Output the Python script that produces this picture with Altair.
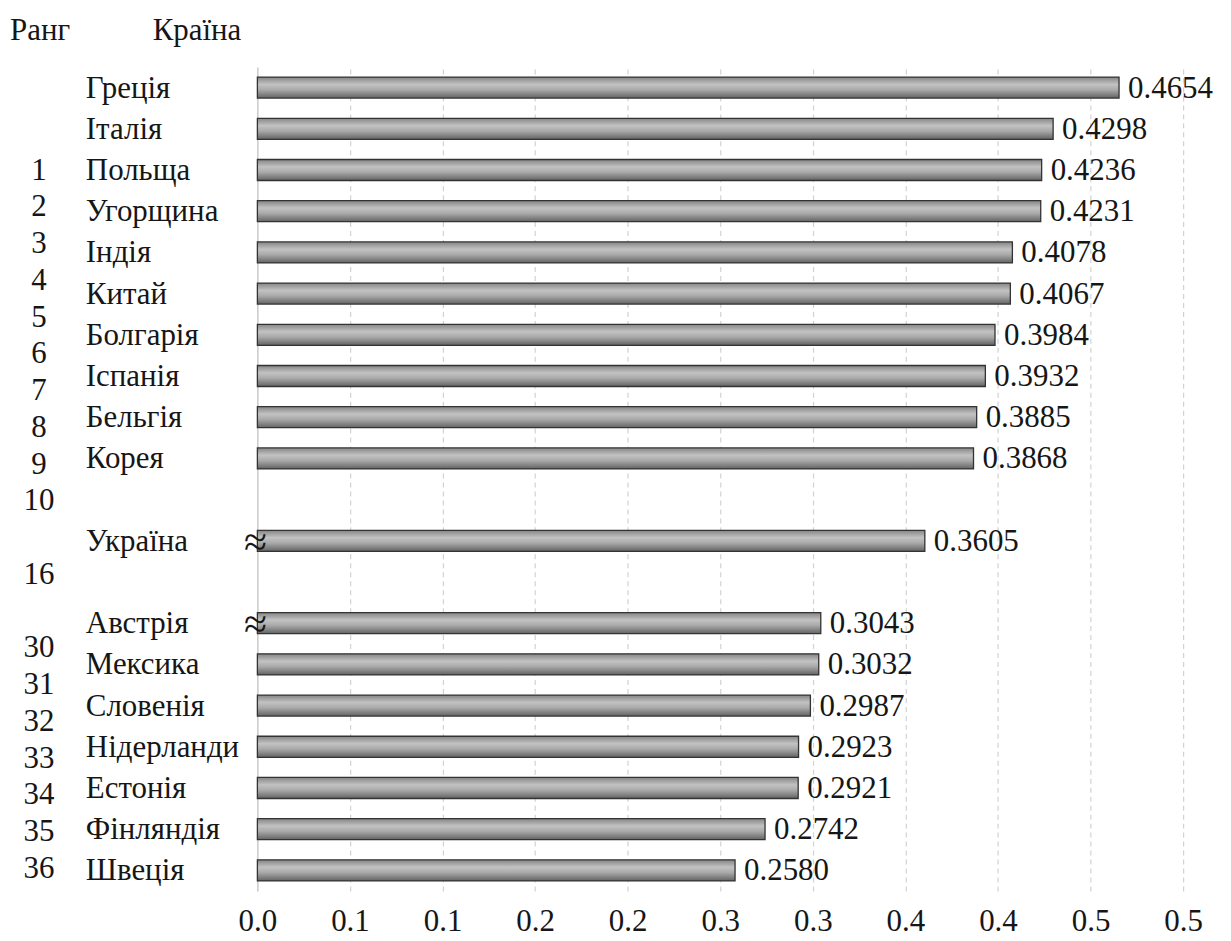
import altair as alt
import pandas as pd

FONT = "Liberation Serif"
FS = 31

headers = ["Ранг", "Країна"]
countries = ["Греція", "Італія", "Польща", "Угорщина", "Індія", "Китай", "Болгарія",
             "Іспанія", "Бельгія", "Корея", "", "Україна", "", "Австрія", "Мексика",
             "Словенія", "Нідерланди", "Естонія", "Фінляндія", "Швеція"]
values = [0.4654, 0.4298, 0.4236, 0.4231, 0.4078, 0.4067, 0.3984, 0.3932, 0.3885, 0.3868,
          None, 0.3605, None, 0.3043, 0.3032, 0.2987, 0.2923, 0.2921, 0.2742, 0.2580]
breaks = [False] * 11 + [True] + [False, True] + [False] * 6
ranks = ["1", "2", "3", "4", "5", "6", "7", "8", "9", "10", "", "16", "",
         "30", "31", "32", "33", "34", "35", "36"]
tick_values = [0.0, 0.05, 0.1, 0.15, 0.2, 0.25, 0.3, 0.35, 0.4, 0.45, 0.5]
tick_labels = ["0.0", "0.1", "0.1", "0.2", "0.2", "0.3", "0.3", "0.4", "0.4", "0.5", "0.5"]

slots = list(range(len(countries)))
df = pd.DataFrame({"slot": slots, "country": countries, "value": values, "brk": breaks})
df = df[df["country"] != ""]
rank_df = pd.DataFrame({"slot": slots, "rank": ranks})
rank_df = rank_df[rank_df["rank"] != ""]

W, H = 928, 826
TXT = "#161616"
band = alt.Scale(type="band", domain=slots, paddingInner=0.49, paddingOuter=0.245)
y_band = alt.Y("slot:O", scale=band, axis=None)

label_expr = "[" + ",".join(f"'{t}'" for t in tick_labels) + "][round(datum.value / 0.05)]"
x_enc = alt.X(
    "value:Q",
    scale=alt.Scale(domain=[0, 0.5], nice=False, zero=True),
    axis=alt.Axis(
        values=tick_values, labelExpr=label_expr, title=None, domain=False, ticks=False,
        grid=True, labelFlush=False, labelOverlap=False,
        gridColor={"condition": {"test": "datum.value === 0", "value": "#bdbdbd"}, "value": "#d2d2d2"},
        gridDash={"condition": {"test": "datum.value === 0", "value": []}, "value": [5, 4]},
        gridWidth=1.2,
        labelFont=FONT, labelFontSize=FS, labelColor=TXT, labelPadding=16,
    ),
)

grad = alt.Gradient(
    gradient="linear",
    stops=[
        alt.GradientStop(color="#858585", offset=0),
        alt.GradientStop(color="#c2c2c2", offset=0.35),
        alt.GradientStop(color="#aaaaaa", offset=0.6),
        alt.GradientStop(color="#636363", offset=1),
    ],
    x1=0, x2=0, y1=0, y2=1,
)

bars = alt.Chart(df).mark_bar(fill=grad, stroke="#333333", strokeWidth=1.3).encode(
    x=x_enc, y=y_band
)

value_text = alt.Chart(df).mark_text(
    align="left", baseline="middle", dx=9, dy=1, font=FONT, fontSize=FS, color=TXT
).encode(x=alt.X("value:Q"), y=y_band, text=alt.Text("value:Q", format=".4f"))

brk_text = alt.Chart(df).transform_filter("datum.brk").mark_text(
    align="center", baseline="middle", dx=-2, dy=2, font=FONT, fontSize=42, color=TXT
).encode(x=alt.value(0), y=y_band, text=alt.value("≈"))

country_text = alt.Chart(df).mark_text(
    align="left", baseline="middle", dy=1, font=FONT, fontSize=FS, color=TXT
).encode(x=alt.value(-172), y=y_band, text="country:N")

rank_text = alt.Chart(rank_df).mark_text(
    align="center", baseline="middle", font=FONT, fontSize=FS, color=TXT
).encode(
    x=alt.value(-219),
    y=alt.Y("slot:Q", scale=alt.Scale(domain=[-2.823, 19.6], reverse=True, nice=False, zero=False), axis=None),
    text="rank:N",
)

h1 = alt.Chart(pd.DataFrame({"t": [headers[0]]})).mark_text(
    align="left", baseline="middle", font=FONT, fontSize=FS, color=TXT
).encode(x=alt.value(-248), y=alt.value(-36), text="t:N")
h2 = alt.Chart(pd.DataFrame({"t": [headers[1]]})).mark_text(
    align="left", baseline="middle", font=FONT, fontSize=FS, color=TXT
).encode(x=alt.value(-105), y=alt.value(-36), text="t:N")

chart = alt.layer(bars, value_text, brk_text, country_text, rank_text, h1, h2).resolve_scale(
    y="independent"
).properties(
    width=W, height=H,
    autosize=alt.AutoSizeParams(type="none"),
    padding={"left": 250, "top": 58, "right": 40, "bottom": 47},
    background="white",
).configure_view(stroke=None)

chart.save("out.html", embed_options={"renderer": "svg", "actions": False})
